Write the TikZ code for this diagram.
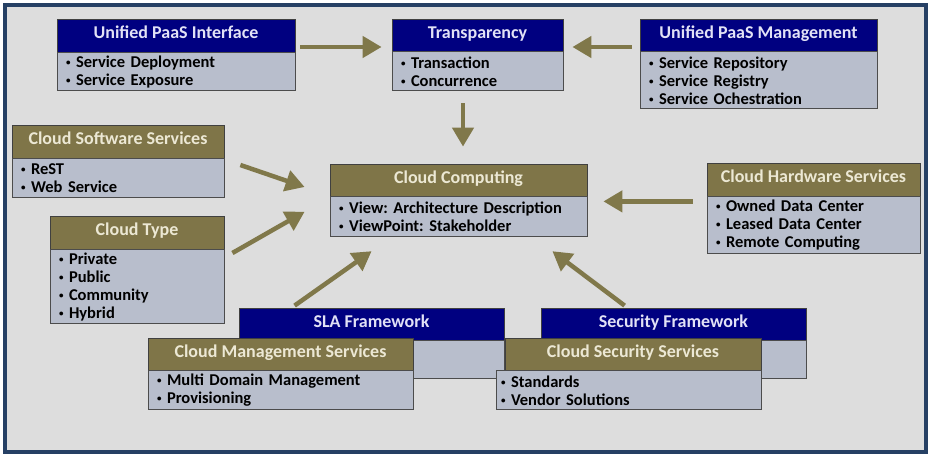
\documentclass[tikz,border=0pt]{standalone}
\usepackage{fontspec}
\setmainfont{Carlito}
\usetikzlibrary{arrows.meta,positioning,calc}
\definecolor{navyhd}{RGB}{0,0,128}
\definecolor{olivehd}{RGB}{127,117,72}
\definecolor{bodyfill}{RGB}{184,190,204}
\definecolor{backgr}{RGB}{221,221,221}
\definecolor{framec}{RGB}{38,64,100}
\definecolor{navytxt}{RGB}{226,226,246}
\definecolor{olivetxt}{RGB}{236,232,212}
\definecolor{arrowc}{RGB}{128,120,74}
\newcommand{\bul}{\makebox[10pt][l]{\raisebox{1.8pt}{\fontsize{9}{9}\selectfont•}}}
\frenchspacing

\begin{document}
\begin{tikzpicture}[x=1pt,y=-1pt,
  head/.style={draw=black!75,line width=0.8pt,inner sep=0pt,minimum height=33pt,
               text height=12pt,text depth=5.4pt,
               font=\fontsize{18}{20}\selectfont\bfseries},
  navy/.style={head,fill=navyhd,text=navytxt},
  olive/.style={head,fill=olivehd,text=olivetxt},
  body/.style={draw=black!70,line width=0.8pt,fill=bodyfill,inner xsep=9pt,
               inner ysep=0pt,align=left,font=\fontsize{16.5}{18}\selectfont\bfseries},
  flow/.style={draw=arrowc,line width=4.5pt,-{Triangle[length=19pt,width=21pt]}}]

\useasboundingbox (0,0) rectangle (931,457);
\fill[white] (0,0) rectangle (931,457);
\draw[framec,line width=4pt,fill=backgr] (5,5) rectangle (926,452);

% ---------------- top row ----------------
\node[navy,minimum width=238pt] (upi) at (176,35.5) {Unified PaaS Interface};
\node[body,text width=220pt,minimum height=38pt,below=0pt of upi] (upib)
  {\bul Service Deployment\\\bul Service Exposure};

\node[navy,minimum width=171pt,minimum height=32pt] (tr) at (477.5,35) {Transparency};
\node[body,text width=153pt,minimum height=39pt,below=0pt of tr] (trb)
  {\bul Transaction\\\bul Concurrence};

\node[navy,minimum width=237pt,minimum height=32pt] (upm) at (758.5,35) {Unified PaaS Management};
\node[body,text width=219pt,minimum height=57pt,below=0pt of upm] (upmb)
  {\bul Service Repository\\\bul Service Registry\\\bul Service Ochestration};

% ---------------- middle row ----------------
\node[olive,minimum width=212pt] (csw) at (118,141.5) {Cloud Software Services};
\node[body,text width=194pt,minimum height=39pt,below=0pt of csw] (cswb)
  {\bul ReST\\\bul Web Service};

\node[olive,minimum width=174pt] (ct) at (137,232.5) {Cloud Type};
\node[body,text width=156pt,minimum height=74pt,below=0pt of ct] (ctb)
  {\bul Private\\\bul Public\\\bul Community\\\bul Hybrid};

\node[olive,minimum width=257pt,minimum height=32pt] (cc) at (458.5,180) {Cloud Computing};
\node[body,text width=239pt,minimum height=40pt,below=0pt of cc] (ccb)
  {\bul View: Architecture Description\\\bul ViewPoint: Stakeholder};

\node[olive,minimum width=213pt] (chw) at (813.5,179.5) {Cloud Hardware Services};
\node[body,text width=195pt,minimum height=57pt,below=0pt of chw] (chwb)
  {\bul Owned Data Center\\\bul Leased Data Center\\\bul Remote Computing};

% ---------------- bottom row (stacked) ----------------
\node[navy,minimum width=265pt,minimum height=32pt] (sla) at (371.5,324) {SLA Framework};
\node[body,minimum width=265pt,minimum height=38pt,inner xsep=0pt,below=0pt of sla] (slab) {};

\node[navy,minimum width=265pt,minimum height=32pt] (secf) at (673.5,324) {Security Framework};
\node[body,minimum width=265pt,minimum height=38pt,inner xsep=0pt,below=0pt of secf] (secfb) {};

\node[olive,minimum width=265pt,minimum height=32pt] (cms) at (280.5,354) {Cloud Management Services};
\node[body,text width=247pt,minimum height=39pt,below=0pt of cms] (cmsb)
  {\bul Multi Domain Management\\\bul Provisioning};

\node[olive,minimum width=256pt,minimum height=32pt] (css) at (633,354) {Cloud Security Services};
\node[body,text width=255pt,minimum height=39pt,inner xsep=5pt,below=0pt of css,xshift=-4.5pt] (cssb)
  {\bul Standards\\\bul Vendor Solutions};

% ---------------- arrows ----------------
\draw[flow] ($(upi.east)+(5,11.5)$) -- ($(tr.west)+(-10,12)$);
\draw[flow] ($(upm.west)+(-8,12)$) -- ($(tr.east)+(9,12)$);
\draw[flow] ($(trb.south)+(-14.5,12)$) -- ($(cc.north)+(4.5,-17)$);
\draw[flow] ($(csw.east)+(16,23.5)$) -- ($(cc.west)+(-25,7)$);
\draw[flow] ($(ct.east)+(8,20.5)$) -- ($(ccb.west)+(-25,-5)$);
\draw[flow] ($(chw.south west)+(-14,5)$) -- ($(cc.south east)+(16,5)$);
\draw[flow] ($(sla.north west)+(56,-2)$) -- ($(ccb.south west)+(42,14)$);
\draw[flow] ($(secf.north west)+(84,-2)$) -- ($(ccb.south east)+(-35,14)$);

\end{tikzpicture}
\end{document}
